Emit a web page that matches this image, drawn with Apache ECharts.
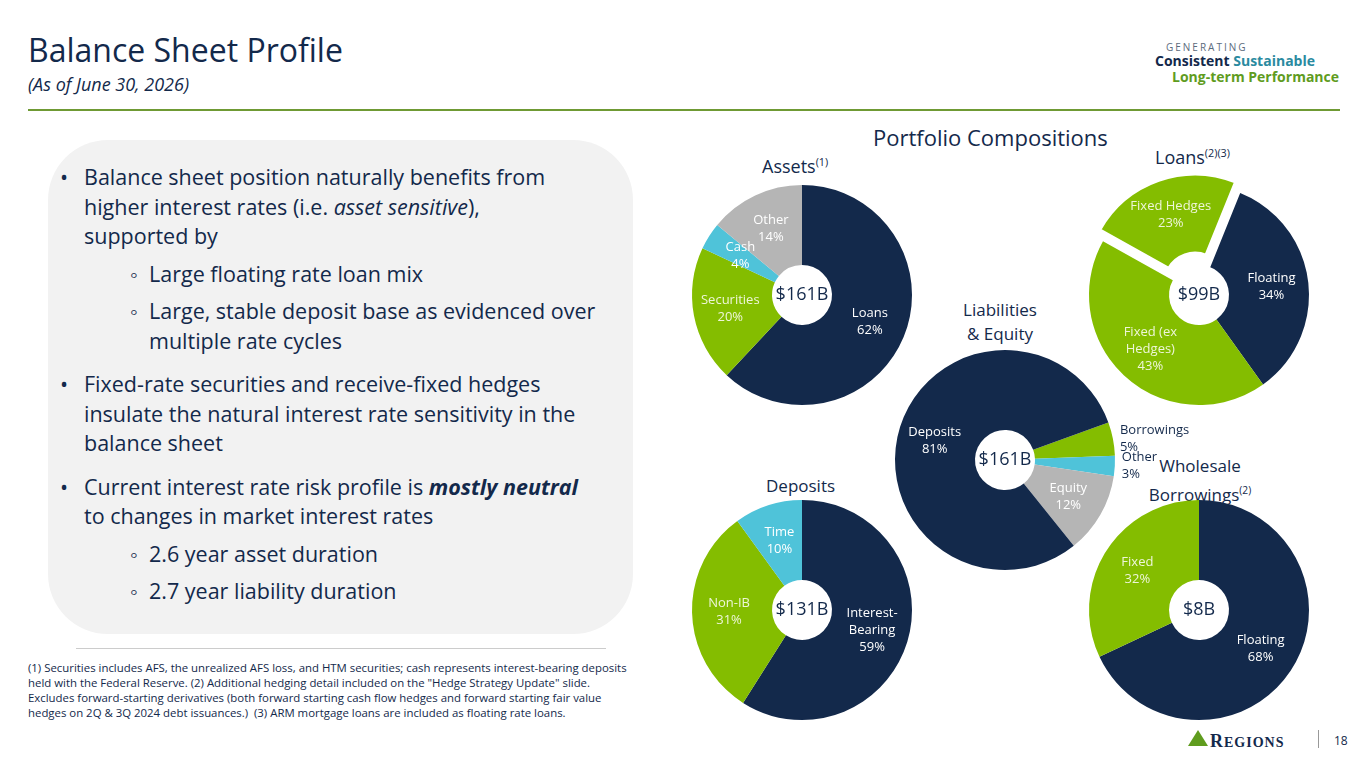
<!DOCTYPE html>
<html><head><meta charset="utf-8">
<script src="https://cdn.jsdelivr.net/npm/echarts@6/dist/echarts.min.js"></script>
<style>
body{margin:0;width:1365px;height:768px;overflow:hidden;background:#fff;font-family:"Open Sans","Noto Sans",sans-serif;color:#13294b;position:relative}
#c{position:absolute;left:0;top:0;width:1365px;height:768px}
.abs{position:absolute}
#panel{left:48px;top:140px;width:585px;height:494px;background:#f2f2f2;border-radius:60px}
ul{margin:0;padding:0;list-style:none}
.b{font-size:21.5px;line-height:29.5px;position:relative;padding-left:34px;padding-right:30px;margin-bottom:8px}
.b:before{content:"•";position:absolute;left:10px}
.s{font-size:21.5px;line-height:29.5px;position:relative;padding-left:99px;margin-bottom:8px}
.s:before{content:"◦";position:absolute;left:80px}
sup{font-size:60%}
</style></head><body>
<div class="abs" style="left:28px;top:28px;font-size:32px">Balance Sheet Profile</div>
<div class="abs" style="left:28px;top:72px;font-size:18px;font-style:italic">(As of June 30, 2026)</div>
<div class="abs" style="left:28px;top:109px;width:1312px;height:2px;background:#6f9a34"></div>
<div class="abs" style="left:1166px;top:40px;font-size:10px;letter-spacing:2px;color:#5b6b7d">GENERATING</div>
<div class="abs" style="left:1155px;top:51px;font-size:14px;font-weight:bold;color:#13294b">Consistent <span style="color:#2a8aa0">Sustainable</span></div>
<div class="abs" style="left:1172px;top:67px;font-size:14px;font-weight:bold;color:#5f9c1e">Long-term Performance</div>
<div class="abs" id="panel"></div>
<div class="abs" style="left:50px;top:162px;width:562px">
<ul>
<li class="b">Balance sheet position naturally benefits from higher interest rates (i.e. <i>asset sensitive</i>), supported by</li>
<li class="s">Large floating rate loan mix</li>
<li class="s">Large, stable deposit base as evidenced over multiple rate cycles</li>
<li class="b" style="margin-top:14px">Fixed-rate securities and receive-fixed hedges insulate the natural interest rate sensitivity in the balance sheet</li>
<li class="b" style="margin-top:14px">Current interest rate risk profile is <b><i>mostly neutral</i></b> to changes in market interest rates</li>
<li class="s">2.6 year asset duration</li>
<li class="s">2.7 year liability duration</li>
</ul></div>
<div class="abs" style="left:76px;top:648px;width:530px;height:1px;background:#ccc"></div>
<div class="abs" style="left:28px;top:660px;width:600px;font-size:11.4px;line-height:15px;color:#13294b">(1) Securities includes AFS, the unrealized AFS loss, and HTM securities; cash represents interest-bearing deposits held with the Federal Reserve. (2) Additional hedging detail included on the "Hedge Strategy Update" slide. Excludes forward-starting derivatives (both forward starting cash flow hedges and forward starting fair value hedges on 2Q &amp; 3Q 2024 debt issuances.)&nbsp; (3) ARM mortgage loans are included as floating rate loans.</div>
<div class="abs" style="left:1210px;top:731px;font-size:18px;font-weight:bold;letter-spacing:1px;color:#13294b;font-family:'Liberation Serif',serif">R<span style="font-size:14px">EGIONS</span></div>
<div class="abs" style="left:1188px;top:730px;width:0;height:0;border-left:10px solid transparent;border-right:10px solid transparent;border-bottom:16px solid #5f9c1e"></div>
<div class="abs" style="left:1318px;top:730px;width:1px;height:18px;background:#999"></div>
<div class="abs" style="left:1334px;top:732px;font-size:12px">18</div>
<div class="abs" style="left:873px;top:122px;font-size:22px">Portfolio Compositions</div>
<div class="abs" style="left:762px;top:154px;font-size:18px">Assets<sup>(1)</sup></div>
<div class="abs" style="left:1155px;top:145px;font-size:18px">Loans<sup>(2)(3)</sup></div>
<div class="abs" style="left:940px;top:298px;width:120px;text-align:center;font-size:17px;line-height:24px">Liabilities<br>&amp; Equity</div>
<div class="abs" style="left:766px;top:474px;font-size:17px">Deposits</div>
<div class="abs" style="left:1140px;top:454px;width:120px;text-align:center;font-size:17px;line-height:24px">Wholesale<br>Borrowings<sup>(2)</sup></div>
<div id="c"></div>
<script>
const NAVY='#13294b',GREEN='#84bd00',TEAL='#4fc3d9',GRAY='#b5b5b5';
const assetsCats=['Loans','Securities','Cash','Other'];
const assetsVals=[62,20,4,14];
const loansCats=['Floating','Fixed (ex\nHedges)','Fixed Hedges'];
const loansVals=[34,43,23];
const liabCats=['Borrowings','Other','Equity','Deposits'];
const liabVals=[5,3,12,81];
const depCats=['Interest-\nBearing','Non-IB','Time'];
const depVals=[59,31,10];
const wbCats=['Floating','Fixed'];
const wbVals=[68,32];
const totals=['$161B','$99B','$161B','$131B','$8B'];
function mk(cats,vals,colors,center,start,opts){
  return Object.assign({type:'pie',center:center,radius:[30,110],startAngle:start,clockwise:true,
    silent:true,animation:false,selectedMode:'single',selectedOffset:12,avoidLabelOverlap:false,
    labelLayout:{hideOverlap:false},
    label:{position:'inside',formatter:p=>p.name+'\n'+p.value+'%',fontSize:13,lineHeight:17,fontFamily:'Open Sans',color:'#fff'},
    itemStyle:{borderColor:'#fff',borderWidth:0},
    data:cats.map((c,i)=>({name:c,value:vals[i],itemStyle:{color:colors[i]},
      label:{color:colors[i]===GREEN?'#eef6d8':'#fff'}}))},opts||{});
}
const ch=echarts.init(document.getElementById('c'));
const assets=mk(assetsCats,assetsVals,[NAVY,GREEN,TEAL,GRAY],[802,295],90);
const loans=mk(loansCats,loansVals,[NAVY,GREEN,GREEN],[1199,295],68);
loans.data[2].selected=true;
loans.data[2].itemStyle.borderWidth=4;
const liab=mk(liabCats,liabVals,[GREEN,TEAL,GRAY,NAVY],[1005,460],20);
liab.data[0].label.position='outside';liab.data[0].label.color=NAVY;
liab.data[1].label.position='outside';liab.data[1].label.color=NAVY;
liab.labelLine={show:false,length:2,length2:0};
const centers=[[802,295],[1199,295],[1005,460],[802,610],[1199,610]];
ch.setOption({
  series:[assets,loans,liab,
    mk(depCats,depVals,[NAVY,GREEN,TEAL],[802,610],90),
    mk(wbCats,wbVals,[NAVY,GREEN],[1199,610],90)
  ],
  graphic:totals.map((t,i)=>({type:'text',x:centers[i][0],y:centers[i][1],
    style:{text:t,fontSize:18,fontFamily:'Open Sans',fill:NAVY,align:'center',verticalAlign:'middle'}}))
});
</script></body></html>
